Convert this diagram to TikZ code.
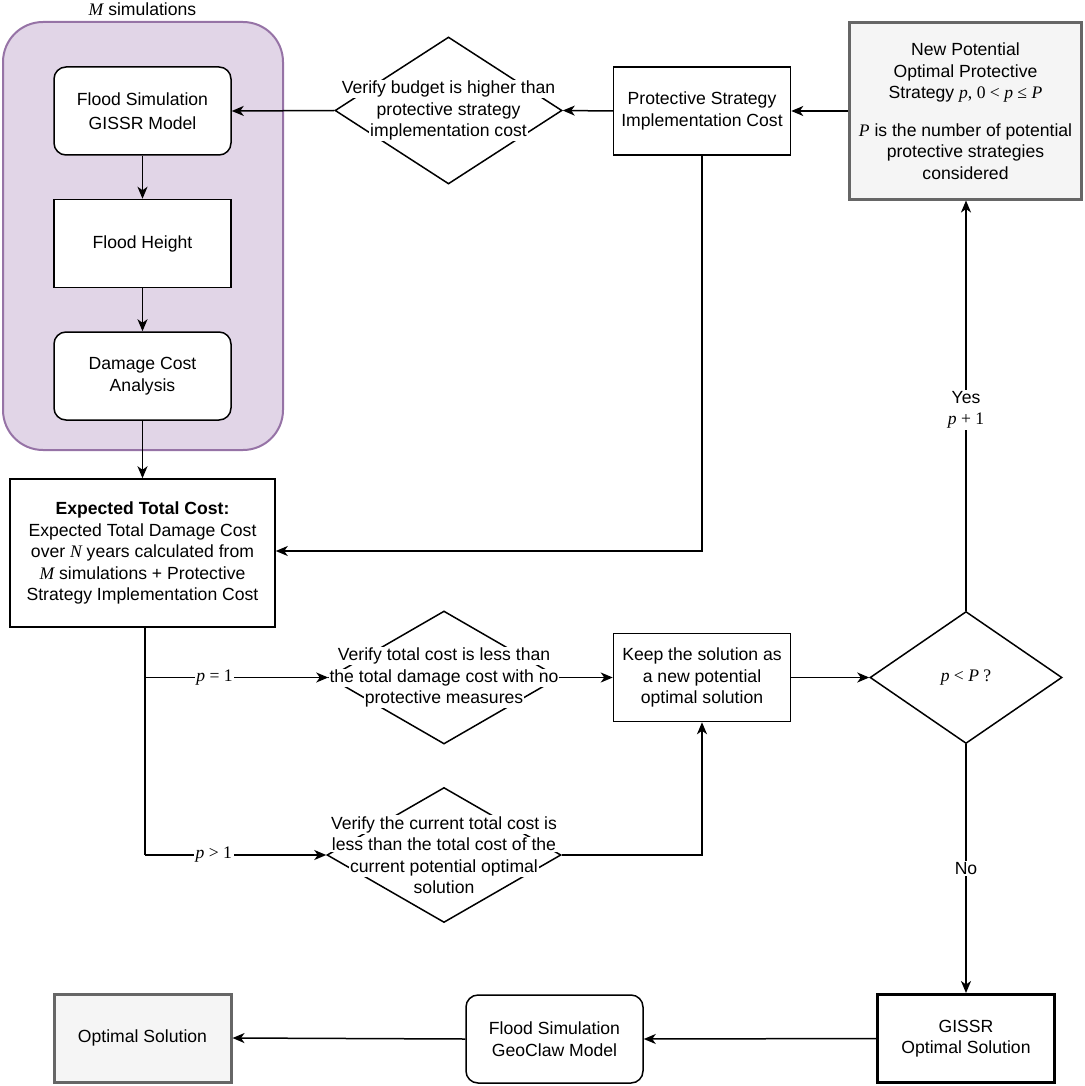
\documentclass[tikz,border=0pt]{standalone}
\usepackage{fontspec}
\setmainfont{Liberation Sans}
\newfontfamily\tms{Liberation Serif}
\usetikzlibrary{shapes.geometric,arrows.meta}
\definecolor{purplefill}{HTML}{E1D5E7}
\definecolor{purpleline}{HTML}{9673A6}
\definecolor{grayfill}{HTML}{F5F5F5}
\definecolor{grayline}{HTML}{666666}
\newcommand\mi[1]{{\tms\itshape #1}}
\newcommand\mr[1]{{\tms #1}}
\newcommand\wl[1]{{\setlength\fboxsep{0.8pt}\colorbox{white}{#1}}}
\begin{document}
\begin{tikzpicture}[x=1pt,y=-1pt,
  font=\fontsize{17.6}{21.5}\selectfont,
  line width=1.5pt,
  >={Stealth[length=12pt,width=10pt,inset=3.5pt]},
  box/.style={draw, rectangle, minimum width=177pt, minimum height=88pt, align=center, inner sep=2pt},
  rbox/.style={box, rounded corners=12pt},
  dia/.style={draw, diamond, inner sep=0pt},
  dtext/.style={align=center, inner sep=0pt},
  lbl/.style={fill=white, inner sep=1.5pt, align=center},
  strong/.style={line width=3pt}
]
\useasboundingbox (0,0) rectangle (1084,1086);

% container
\node[draw=purpleline, fill=purplefill, line width=2pt, rounded corners=40pt,
      minimum width=280pt, minimum height=428pt] (cont) at (143,236) {};
\node[inner sep=0pt] (mlab) at (142.5,9) {\mi{M} simulations};

% left column
\node[rbox, fill=white] (fs) at (142.5,111) {Flood Simulation\\[2pt]GISSR Model};
\node[box, fill=white] (fh) at (142.5,243.5) {Flood Height};
\node[rbox, fill=white] (dc) at (142.5,376) {Damage Cost\\Analysis};
\node[box, minimum width=265pt, minimum height=148pt] (etc) at (142.5,553)
  {\textbf{Expected Total Cost:}\\Expected Total Damage Cost\\over \mi{N} years calculated from\\\mi{M} simulations + Protective\\Strategy Implementation Cost};

% top row
\node[dia, minimum width=227pt, minimum height=147pt] (d1) at (448.5,110.5) {};
\node[dtext] (t1) at (448.5,110.5) {\wl{Verify budget is higher than}\\\wl{protective strategy}\\\wl{implementation cost}};
\node[box] (psc) at (702,111) {Protective Strategy\\Implementation Cost};
\node[box, fill=grayfill, draw=grayline, strong, minimum width=232pt, minimum height=176pt] (np) at (965.5,111)
  {New Potential\\Optimal Protective\\Strategy \mi{p}\mr{, 0 < }\mi{p}\mr{ ≤ }\mi{P}\\[16pt]\mi{P} is the number of potential\\protective strategies\\considered};

% middle row
\node[dia, minimum width=230pt, minimum height=133pt] (d2) at (444,677.5) {};
\node[dtext] (t2) at (444,677.5) {\wl{Verify total cost is less than}\\\wl{the total damage cost with no}\\\wl{protective measures}};
\node[box] (keep) at (702,677.5) {Keep the solution as\\a new potential\\optimal solution};
\node[dia, minimum width=192pt, minimum height=132pt] (d4) at (966,677.5) {};
\node[dtext] (t4) at (966,677.5) {\mi{p}\mr{ < }\mi{P}\mr{ ?}};
\node[dia, minimum width=234pt, minimum height=135pt] (d3) at (444,855) {};
\node[dtext] (t3) at (444,855) {\wl{Verify the current total cost is}\\\wl{less than the total cost of the}\\\wl{current potential optimal}\\\wl{solution}};

% bottom row
\node[box, fill=grayfill, draw=grayline, strong] (opt) at (142.5,1038) {Optimal Solution};
\node[rbox] (geo) at (554.5,1039) {Flood Simulation\\GeoClaw Model};
\node[box, strong] (gos) at (966,1038.5) {GISSR\\Optimal Solution};

% connectors
\draw[->] (fs) -- (fh);
\draw[->] (fh) -- (dc);
\draw[->] (dc.south) -- (etc.north);
\draw[->] (d1.west) -- (fs.east);
\draw[->] (psc.west) -- (d1.east);
\draw[->] (np.west) -- (psc.east);
\coordinate (c1) at (702,551);
\draw[->] (psc.south) -- (c1) -- (etc.east |- c1);
\coordinate (c2) at (145,677.5);
\coordinate (c3) at (145,855);
\draw (etc.south -| c2) -- (c3);
\draw[->] (c2) -- node[lbl, pos=0.38] (l1) {\mi{p}\mr{ = 1}} (d2.west);
\draw[->] (c3) -- node[lbl, pos=0.38] (l2) {\mi{p}\mr{ > 1}} (d3.west);
\draw[->] (d2.east) -- (d2.east -| keep.west);
\draw[->] (d3.east) -| (keep.south);
\draw[->] (keep.east) -- (d4.west);
\draw[->] (d4.north) -- node[lbl, pos=0.49] (l3) {Yes\\\mi{p}\mr{ + 1}} (d4.north |- np.south);
\draw[->] (d4.south) -- node[lbl, pos=0.5] (l4) {No} (gos.north);
\draw[->] (gos.west) -- (geo.east);
\draw[->] (geo.west) -- (opt.east);
\end{tikzpicture}
\end{document}
